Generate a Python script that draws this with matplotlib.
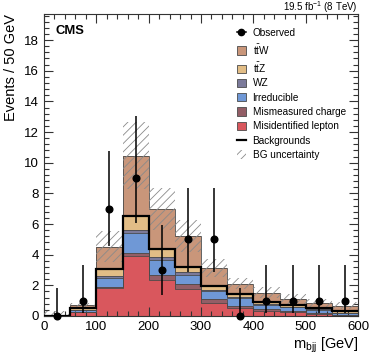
import matplotlib
matplotlib.use('Agg')
import matplotlib.pyplot as plt
from matplotlib.patches import Patch
from matplotlib.lines import Line2D
from matplotlib.ticker import MultipleLocator
import numpy as np

plt.rcParams['font.family'] = ['Liberation Sans', 'DejaVu Sans']
plt.rcParams['mathtext.fontset'] = 'custom'
plt.rcParams['mathtext.rm'] = 'Liberation Sans'
plt.rcParams['mathtext.it'] = 'Liberation Sans:italic'
plt.rcParams['mathtext.bf'] = 'Liberation Sans:bold'
plt.rcParams['hatch.linewidth'] = 0.6

# binning in m_bjj (GeV)
bin_edges = np.arange(0, 650, 50)

# stacked components, bottom to top
misid_lepton = [0.00, 0.24, 1.81, 3.92, 2.35, 1.74, 0.87, 0.50, 0.33, 0.25, 0.15, 0.05]
mismeas_charge = [0.00, 0.04, 0.11, 0.22, 0.33, 0.33, 0.26, 0.15, 0.10, 0.08, 0.05, 0.02]
irreducible = [0.00, 0.10, 0.58, 1.26, 0.98, 0.61, 0.50, 0.50, 0.30, 0.23, 0.22, 0.10]
wz = [0.00, 0.04, 0.14, 0.22, 0.17, 0.20, 0.08, 0.06, 0.06, 0.05, 0.04, 0.05]
ttz = [0.01, 0.12, 0.45, 0.92, 0.55, 0.34, 0.25, 0.21, 0.13, 0.09, 0.08, 0.13]
ttw = [0.02, 0.18, 1.43, 3.92, 2.59, 1.98, 1.18, 0.68, 0.60, 0.42, 0.29, 0.33]
bg_unc = [0.27, 0.15, 1.00, 2.17, 1.38, 1.03, 0.58, 0.35, 0.36, 0.31, 0.27, 0.24]

# data
observed = [0, 1, 7, 9, 3, 5, 5, 0, 1, 1, 1, 1]
obs_low = [0.0, 0.17, 4.58, 6.08, 1.37, 2.84, 2.84, 0.0, 0.17, 0.17, 0.17, 0.17]
obs_high = [1.84, 3.30, 10.77, 13.06, 5.92, 8.38, 8.38, 1.84, 3.30, 3.30, 3.30, 3.30]

labels = ['Observed', r'$\mathrm{t\bar{t}W}$', r'$\mathrm{t\bar{t}Z}$', 'WZ', 'Irreducible',
          'Mismeasured charge', 'Misidentified lepton', 'Backgrounds', 'BG uncertainty']
colors = {'ttw': '#c9967a', 'ttz': '#e2bd86', 'wz': '#7b7a9a', 'irr': '#6f98d6',
          'mism': '#935e66', 'misid': '#d9575d'}

fig = plt.figure(figsize=(3.74, 3.59), dpi=100)
ax = fig.add_axes([44 / 374, 1 - 316 / 359, 314 / 374, 302 / 359])

layers = [('misid', misid_lepton), ('mism', mismeas_charge), ('irr', irreducible),
          ('wz', wz), ('ttz', ttz), ('ttw', ttw)]
cum = np.cumsum([np.array(v) for _, v in layers], axis=0)

# fills, top layer first so the lower ones cover it
for i in range(len(layers) - 1, -1, -1):
    ax.stairs(cum[i], bin_edges, fill=True, color=colors[layers[i][0]], lw=0, zorder=1)
for i in range(len(layers)):
    ax.stairs(cum[i], bin_edges, baseline=None, color='#4a4a4a', lw=0.6, zorder=2)

total = cum[-1]
unc = np.array(bg_unc)
ax.stairs(total + unc, bin_edges, baseline=np.clip(total - unc, 0, None), fill=True,
          facecolor='none', edgecolor='#8a8a8a', hatch='////', lw=0, zorder=3)

# backgrounds total line
ax.stairs(cum[4], bin_edges, baseline=None, color='black', lw=1.6, zorder=4)

centers = 0.5 * (bin_edges[:-1] + bin_edges[1:])
obs = np.array(observed, dtype=float)
yerr = [obs - np.array(obs_low), np.array(obs_high) - obs]
ax.errorbar(centers, obs, yerr=yerr, fmt='o', color='black', ms=4.8, elinewidth=1.1,
            capsize=0, zorder=5, clip_on=False)

ax.set_xlim(0, 600)
ax.set_ylim(0, 19.7)
ax.xaxis.set_major_locator(MultipleLocator(100))
ax.xaxis.set_minor_locator(MultipleLocator(20))
ax.yaxis.set_major_locator(MultipleLocator(2))
ax.yaxis.set_minor_locator(MultipleLocator(0.4))
ax.tick_params(which='both', direction='in', top=True, right=True, width=0.8,
               labelsize=9.5, color='#333333')
ax.tick_params(which='major', length=6.5, pad=3.5)
ax.tick_params(which='minor', length=3.5)
for s in ax.spines.values():
    s.set_linewidth(0.8)
    s.set_color('#333333')

ax.set_ylabel('Events / 50 GeV', fontsize=10.5, ha='right')
ax.yaxis.set_label_coords(-0.082, 1.0)
ax.set_xlabel(r'm$_{\mathrm{bjj}}$ [GeV]', fontsize=10.5, ha='right')
ax.xaxis.set_label_coords(1.0, -0.066)

ax.text(0.038, 0.944, 'CMS', transform=ax.transAxes, fontsize=9.4, fontweight='bold',
        va='center', ha='left')
ax.text(1.0, 1.009, r'19.5 fb$^{-1}$ (8 TeV)', transform=ax.transAxes, fontsize=7,
        ha='right', va='baseline')

handles = [
    Line2D([], [], color='black', marker='o', ms=4.5, lw=1.1),
    Patch(facecolor=colors['ttw'], edgecolor='#4a4a4a', lw=0.6),
    Patch(facecolor=colors['ttz'], edgecolor='#4a4a4a', lw=0.6),
    Patch(facecolor=colors['wz'], edgecolor='#4a4a4a', lw=0.6),
    Patch(facecolor=colors['irr'], edgecolor='#4a4a4a', lw=0.6),
    Patch(facecolor=colors['mism'], edgecolor='#4a4a4a', lw=0.6),
    Patch(facecolor=colors['misid'], edgecolor='#4a4a4a', lw=0.6),
    Line2D([], [], color='black', lw=1.6),
    Patch(facecolor='none', edgecolor='#8a8a8a', hatch='////', lw=0),
]
ax.legend(handles, labels, loc='upper left', bbox_to_anchor=(0.615, 0.955), frameon=False,
          fontsize=7.2, handlelength=0.85, handleheight=0.9, handletextpad=0.7,
          labelspacing=0.43, borderpad=0, borderaxespad=0)

fig.savefig('out.png', dpi=100)
